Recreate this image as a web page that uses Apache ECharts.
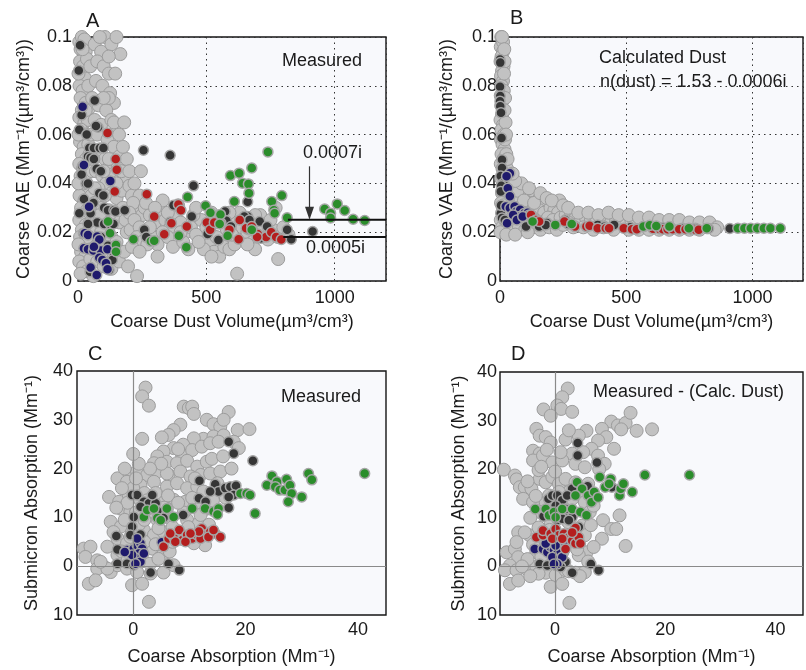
<!DOCTYPE html>
<html><head><meta charset="utf-8">
<script src="https://cdn.jsdelivr.net/npm/echarts@6/dist/echarts.min.js"></script>
<style>html,body{margin:0;padding:0;background:#fff}#c{width:806px;height:670px}</style>
</head><body><div id="c"></div><script>
// ---------- Panel A: measured VAE vs coarse dust volume ----------
const aGray = [[5,0.098],[15,0.1],[25,0.099],[10,0.095],[30,0.094],[8,0.09],[20,0.088],[35,0.091],[12,0.085],[28,0.083],[6,0.08],[18,0.078],[40,0.08],[10,0.075],[30,0.073],[15,0.07],[45,0.071],[5,0.067],[25,0.065],[38,0.066],[12,0.062],[30,0.06],[8,0.057],[22,0.055],[40,0.056],[15,0.052],[32,0.05],[5,0.048],[20,0.046],[42,0.047],[10,0.043],[28,0.041],[18,0.038],[38,0.036],[6,0.035],[25,0.033],[12,0.03],[35,0.029],[20,0.027],[5,0.025],[30,0.023],[15,0.021],[42,0.02],[8,0.018],[25,0.016],[38,0.014],[12,0.012],[28,0.01],[5,0.008],[20,0.006],[35,0.004],[10,0.003],[48,0.009],[50,0.015],[55,0.025],[52,0.035],[55,0.045],[50,0.06],[55,0.075],[48,0.088],
[65,0.097],[90,0.094],[105,0.1],[130,0.097],[75,0.09],[100,0.088],[120,0.085],[70,0.082],[95,0.08],[125,0.077],[140,0.073],[80,0.072],[110,0.07],[65,0.066],[90,0.064],[130,0.066],[150,0.062],[75,0.06],[115,0.058],[140,0.055],[85,0.053],[105,0.05],[125,0.048],[155,0.047],[70,0.045],[95,0.043],[140,0.044],[160,0.041],[110,0.04],[80,0.038],[130,0.036],[150,0.034],[65,0.032],[95,0.03],[120,0.029],[175,0.03],[85,0.027],[140,0.025],[160,0.024],[105,0.022],[70,0.02],[130,0.018],[150,0.016],[90,0.015],[115,0.012],[140,0.01],[75,0.008],[100,0.006],[130,0.005],[160,0.008],[60,0.002],[180,0.012],[190,0.02],[170,0.037],[180,0.043],[200,0.039],[210,0.035],[160,0.051],[145,0.085],[165,0.093],[150,0.1],[120,0.092],
[150,0.04],[170,0.045],[190,0.05],[175,0.055],[140,0.065],[160,0.06],[200,0.045],[220,0.04],[240,0.035],[230,0.03],[250,0.027],[185,0.025],[205,0.021],[215,0.032],[245,0.045],[180,0.065],[120,0.05],[100,0.045],[60,0.05],[65,0.038],[58,0.013],[105,0.035],[90,0.02],[120,0.075],[85,0.1],[100,0.075],[30,0.07],[22,0.04],[45,0.03],[35,0.018],[18,0.095],[2,0.085],[2,0.06],[2,0.04],[2,0.015],[45,0.052],
[200,0.028],[220,0.025],[240,0.022],[260,0.03],[280,0.027],[300,0.024],[230,0.018],[250,0.016],[210,0.014],[270,0.02],[320,0.029],[340,0.025],[360,0.022],[290,0.018],[310,0.015],[380,0.027],[400,0.024],[420,0.02],[350,0.018],[370,0.014],[230,0.002],[195,0.006],[265,0.032],[330,0.033],[390,0.031],[410,0.016],[440,0.022],[460,0.019],[480,0.025],[450,0.027],[430,0.013],
[280,0.022],[300,0.03],[330,0.02],[350,0.028],[270,0.015],[240,0.012],[310,0.01],[400,0.02],[460,0.03],
[500,0.022],[520,0.019],[540,0.024],[560,0.017],[580,0.021],[600,0.025],[620,0.018],[640,0.022],[660,0.02],[680,0.016],[700,0.023],[720,0.019],[740,0.017],[760,0.021],[780,0.018],[800,0.022],[510,0.015],[530,0.012],[550,0.01],[570,0.014],[590,0.013],[490,0.013],[470,0.016],[520,0.01],[620,0.003],[780,0.009],[690,0.013],[610,0.015],[650,0.026],[630,0.028],[710,0.027],[560,0.026],[590,0.028],[820,0.019],
[520,0.028],[540,0.018],[600,0.019],[660,0.015],[720,0.023],[750,0.025],[770,0.03],[690,0.027]];
const aDark = [[8,0.0966],[3,0.0863],[65,0.074],[14,0.068],[5,0.062],[78,0.063],[70,0.0635],[34,0.060],[44,0.0545],[62,0.0545],[85,0.0545],[99,0.0545],[39,0.051],[49,0.0505],[62,0.05],[17,0.047],[73,0.046],[89,0.045],[14,0.0436],[31,0.040],[39,0.040],[83,0.036],[99,0.035],[23,0.0336],[60,0.032],[102,0.030],[117,0.029],[140,0.029],[146,0.0285],[182,0.029],[5,0.0278],[49,0.0278],[75,0.024],[39,0.0234],[102,0.0234],[125,0.0234],[138,0.0234],[21,0.0196],[89,0.018],[117,0.0144],[140,0.0114],[134,0.0086],[121,0.0045],[47,0.0038],[255,0.0536],[359,0.0515],[450,0.039],[372,0.031],[258,0.021],[266,0.018],[359,0.0242],[443,0.0264],[573,0.0285],[661,0.0325],[661,0.0264],[648,0.0264],[668,0.025],[578,0.0247],[596,0.0223],[547,0.0168],[664,0.021],[708,0.0244],[737,0.0223],[815,0.021],[831,0.0171],[914,0.0203],[713,0.0175],[505,0.0193]];
const aBlue = [[18,0.0714],[23,0.0475],[126,0.041],[43,0.0304],[26,0.0196],[39,0.0189],[75,0.0182],[83,0.017],[23,0.0134],[39,0.013],[60,0.0125],[89,0.0125],[115,0.013],[83,0.0095],[95,0.0086],[49,0.0055],[109,0.0073],[115,0.0048],[73,0.0025],[62,0.014]];
const aRed = [[115,0.0607],[147,0.05],[151,0.0456],[143,0.0367],[268,0.0356],[297,0.0264],[336,0.0192],[391,0.0314],[401,0.029],[364,0.0237],[424,0.0223],[502,0.024],[515,0.021],[531,0.024],[557,0.0237],[590,0.021],[626,0.0171],[630,0.025],[655,0.0216],[677,0.0223],[700,0.0193],[733,0.018],[753,0.02],[772,0.018],[792,0.017],[698,0.018]];
const aGreen = [[117,0.0244],[125,0.0196],[148,0.0148],[148,0.012],[216,0.0171],[284,0.0163],[297,0.0165],[427,0.0344],[393,0.0185],[422,0.0138],[497,0.0308],[516,0.028],[555,0.0273],[552,0.0234],[594,0.0432],[628,0.0442],[677,0.0463],[641,0.0401],[664,0.0398],[666,0.036],[609,0.0326],[583,0.0185],[677,0.021],[755,0.0326],[763,0.029],[766,0.0278],[794,0.035],[740,0.0529],[815,0.0259],[961,0.0295],[984,0.0278],[984,0.0258],[1010,0.0316],[1039,0.0289],[1072,0.0253],[1117,0.0248]];
const aLine7 = [[818,0.0251],[1200,0.0251]];   // 0.0007i
const aLine5 = [[800,0.0180],[1200,0.0180]];   // 0.0005i
const aArrow = [[902,0.0470],[902,0.0278]];

// ---------- Panel B: calculated dust ----------
const bGray = [[5,0.1],[10,0.098],[3,0.096],[12,0.094],[6,0.092],[2,0.09],[14,0.088],[8,0.086],[4,0.084],[12,0.082],[6,0.08],[15,0.078],[3,0.076],[10,0.074],[5,0.072],[14,0.07],[8,0.068],[2,0.066],[12,0.064],[6,0.062],[16,0.06],[4,0.058],[10,0.056],[18,0.054],[6,0.052],[14,0.05],[3,0.048],[22,0.048],[10,0.046],[28,0.046],[18,0.044],[5,0.042],[35,0.043],[25,0.041],[12,0.039],[40,0.04],[30,0.038],[8,0.036],[48,0.037],[20,0.035],[55,0.035],[38,0.034],[4,0.032],[15,0.031],[60,0.033],[28,0.03],[45,0.031],[10,0.028],[70,0.032],[35,0.027],[3,0.025],[20,0.024],[50,0.026],[8,0.022],[30,0.022],[15,0.02],[60,0.024],[40,0.021],[2,0.02],[25,0.019],
[18,0.09],[20,0.075],[22,0.065],[16,0.085],[20,0.058],[25,0.052],[30,0.05],[12,0.098],[8,0.1],[17,0.095],[18,0.07],[24,0.06],
[80,0.034],[95,0.036],[110,0.035],[125,0.036],[140,0.035],[100,0.031],[120,0.032],[150,0.033],[165,0.032],[180,0.031],[85,0.028],[105,0.027],[130,0.029],[155,0.029],[175,0.028],[200,0.03],[215,0.029],[230,0.028],[90,0.024],[115,0.023],[140,0.025],[165,0.024],[190,0.026],[210,0.025],[240,0.026],[260,0.027],[280,0.027],[300,0.026],[75,0.022],[100,0.021],[130,0.022],[160,0.021],[195,0.022],[225,0.021],[250,0.023],[270,0.024],[320,0.025],[340,0.026],[360,0.025],[380,0.024],[400,0.025],[420,0.026],[440,0.024],[460,0.025],[290,0.022],[330,0.022],[370,0.021],[410,0.022],[450,0.021],[480,0.024],[500,0.023],[520,0.025],[540,0.024],[560,0.023],[580,0.024],[600,0.023],[620,0.024],[640,0.023],[660,0.024],[680,0.022],[700,0.023],[720,0.022],[740,0.023],[760,0.022],[780,0.022],[800,0.023],[820,0.022],[840,0.022],[510,0.021],[550,0.021],[590,0.021],[630,0.021],[670,0.021],[710,0.021],[750,0.021],[790,0.021],[60,0.019],[110,0.02],[235,0.033],
[70,0.037],[85,0.04],[60,0.041],[50,0.044],[75,0.029],[95,0.033],[115,0.038],[135,0.032],[160,0.036],[185,0.034],[205,0.033],[250,0.031],[270,0.03],[310,0.028],[350,0.028],[390,0.027],[430,0.028],[470,0.027],[510,0.027],[550,0.026],[590,0.026],[630,0.025],[670,0.025],[710,0.025],[750,0.024],[790,0.024],[830,0.024],[860,0.022],[850,0.021]];
const bDark = [[0,0.0908],[1,0.0895],[0,0.0796],[1,0.0758],[0,0.0737],[1,0.0716],[4,0.069],[6,0.0586],[8,0.0497],[8,0.0463],[3,0.043],[14,0.0401],[5,0.039],[3,0.0367],[5,0.0305],[3,0.0278],[8,0.0258],[18,0.0244],[4,0.031],[19,0.025],[86,0.026],[186,0.0238],[103,0.0223],[155,0.0223],[181,0.023],[258,0.025],[271,0.0234],[297,0.0225],[387,0.023],[413,0.0222],[452,0.023],[516,0.022],[568,0.0223],[645,0.0218],[723,0.0216],[774,0.0216],[826,0.0215],[910,0.0215]];
const bBlue = [[39,0.0442],[26,0.0429],[31,0.038],[39,0.0347],[23,0.0305],[39,0.0299],[58,0.0305],[65,0.0285],[80,0.0292],[97,0.0278],[110,0.028],[77,0.0264],[52,0.0271],[28,0.0237],[116,0.0271],[129,0.0264],[67,0.025],[90,0.0264]];
const bRed = [[123,0.0271],[142,0.025],[155,0.0244],[255,0.0244],[297,0.0223],[342,0.0223],[355,0.0226],[387,0.0216],[419,0.0216],[432,0.0216],[490,0.0216],[523,0.0212],[542,0.0212],[606,0.0214],[632,0.0213],[645,0.0212],[664,0.0212],[684,0.0212],[710,0.0212],[735,0.0212],[755,0.0212],[774,0.021],[787,0.021]];
const bGreen = [[129,0.0244],[219,0.023],[284,0.0234],[568,0.0223],[593,0.0228],[619,0.0225],[671,0.0223],[748,0.0216],[819,0.0216],[942,0.0216],[968,0.0216],[993,0.0216],[1019,0.0216],[1045,0.0216],[1071,0.0216],[1110,0.0216]];

// ---------- Panel C: measured absorption ----------
const cGray = [[2.2,36.6],[1.6,34.8],[2.8,32.9],[9,32.7],[9.9,32.4],[10.5,32.7],[10.8,31.2],[13.1,30],[14.3,29.1],[15.5,28.6],[17,31.6],[16.1,30],[18.6,27.9],[20.7,28.1],[8.4,29],[7.2,27.9],[6.3,26.9],[5.1,26.4],[1.6,26.1],[12.5,26.1],[10.8,26.2],[14.3,26.6],[16.1,26.8],[8.9,24.9],[7.2,24.2],[5.4,23.5],[4.3,22.5],[8.7,22.8],[10.5,23.8],[12.2,24.5],[13.7,25.2],[15.2,25.5],[17.9,25.5],[18.8,24.2],[3.7,21.1],[6,21.4],[7.8,21.1],[9.6,21.6],[11.4,20.4],[13.1,21.4],[-0.8,19],[0.7,19.4],[2.5,18.7],[4.3,19.4],[6.3,18.7],[8.4,19.4],[10.2,18.4],[12,18.7],[13.7,19],[15.5,19.4],[-2.8,18],[-1.1,17.3],[1.3,16.6],[3.7,17.3],[6,16.3],[7.8,17],[9.6,16],[11.4,16.3],[12.5,15.3],[-4.3,14.2],[-2.5,13.2],[-0.8,14.6],[1,13.9],[4.9,13.9],[7.2,13.6],[9.3,13.2],[11.1,12.9],[13.1,11.8],[-2.2,11.8],[-0.5,11.2],[1.3,10.1],[4.3,9.5],[6,10.1],[9.6,9.5],[11.7,8.8],[-4,9.1],[-2.2,8.1],[-0.2,7],[1.9,7.4],[3.7,6.4],[5.4,7],[7.2,5.7],[-2.8,5.7],[-1.1,4.7],[1.3,4.3],[3.4,3.6],[5.1,4],[-4.6,4],[-8.8,3.6],[-7.6,4],[-8.5,1.9],[-6.4,1.2],[-5.2,-0.1],[-4,-1.2],[-2.8,0.2],[-1.1,-0.5],[0.7,-1.2],[3.1,-1.5],[5.4,-1.3],[7.2,0.2],[-2.8,2.3],[-6.4,-0.5],[-7.9,-3.6],[-6.7,-2.9],[-0.2,-3.9],[1.6,-3.6],[2.8,-7.3],[-4.6,-0.5],[12.8,4.3],[10.8,4.7],[-5.8,0.9],[6,11.8],[3.4,11.2],
[0,16],[2,15],[-1,13],[3,12],[0.5,11],[-1.5,9.5],[1,8.5],[-0.5,6],[2,5],[4,4.5],[-2,3],[0,2],[1.5,1],[3,0.5],[5,2],[6.5,3],[7,8],[5.5,12],[4,15],[6,19],[8,24],[5,21],[3,20],[1,21],[-2,16],[-3,12],[0,23],[7,5],[8.5,6],[9,11],[10.5,14],[11,18],[14,22],[16,22.5],[17.5,20],[15,17],[2.5,13.5],[0.5,18],[-1.5,20],[2,9.5],[-3.5,7],[-1,1.2],[4.5,1.5],[6.2,14.5],[8,13],[9.8,8],[12,10.5],[14.2,13.5],[16.5,14],[13.5,8.5],[4.5,7.8]];
const cDark = [[17,25.5],[17.9,23.1],[21.3,21.6],[11.8,17.5],[14.6,16.8],[15.2,15.3],[16.4,16],[17.3,16.3],[18.3,16.5],[17.9,14.6],[17,14.2],[13.7,15.3],[11.7,13.9],[12.9,13.2],[17,12],[8.9,10.5],[-0.2,14.6],[0.7,14.6],[1.9,13.2],[2.8,12.9],[4,12.9],[1.3,12.2],[0.1,10.1],[-0.2,8.1],[-0.5,6.4],[1.3,6.5],[-3,6.2],[-2.8,3.4],[-2.8,0.5],[-1.1,0.5],[0.1,0.2],[3.1,-1.3],[6.3,0.5],[8.2,-0.8],[4.3,11.3],[5.4,9.9],[3.4,14.6]];
const cBlue = [[-1.1,3.3],[-0.5,2.9],[0.1,3.6],[0.7,4.3],[1.3,4.7],[1.6,3.6],[1,2.6],[0.4,1.7],[1.3,0.9],[1.9,2.6],[-0.2,2.3],[-1.5,2.9],[0.7,5.7],[5.1,4.9],[0.4,0.5]];
const cRed = [[5.4,4],[6.3,5.7],[7.2,6],[8.2,7.4],[8.7,5.3],[9.6,6.4],[10.5,5.7],[11.4,6.4],[12.2,7.7],[12.8,6.4],[13.7,7],[14.6,6.7],[15.5,6],[7.5,5],[9.3,5],[12,5.7],[13.4,6],[14.3,7.4],[11.7,7.1],[10.2,6.7],[6.6,6.7]];
const cGreen = [[1.9,10.1],[2.5,11.5],[3.7,11.8],[4.3,9.9],[4.9,9.4],[6,11.8],[7.2,10.1],[10.5,11.8],[12.8,11.8],[14.3,11.2],[15.2,11.8],[15,10.6],[19.1,14.9],[20.2,14.9],[20.8,14.6],[21.7,10.8],[23.8,16.6],[24.7,18.5],[25.6,17.3],[25.3,16.3],[26.1,15.6],[27,15.6],[27.3,17.8],[27.9,16.6],[28.2,14.9],[27.6,13.2],[30,14.2],[31.2,19],[31.8,17.7],[41.2,19]];

// ---------- Panel D: measured minus calculated dust ----------
const dGray = [[2.3,36.6],[1.3,34.8],[0.4,33.1],[1.1,32.4],[3.1,31.8],[-2.1,32.3],[-0.8,31],[10.2,29.8],[11.4,29],[12.8,29.5],[13.7,31.6],[14.8,27.9],[17.6,28.2],[12,28.2],[8.5,28.3],[9.3,26.6],[7.8,25.9],[5.7,27.9],[4.3,26.9],[1.9,26.1],[6.6,24.2],[5.1,23.5],[3.1,23.2],[-3.4,28.3],[-2.8,26.9],[-1.7,26.6],[-0.8,25.5],[-4,23.8],[-2.8,23.2],[-4,21.8],[-2.2,22.8],[-0.5,21.4],[1.3,21.8],[3.7,21.1],[5.4,20.4],[7.8,22.8],[9,21.1],[10.7,24.2],[-9.3,19.9],[-7.3,18.7],[-7,17.9],[-6.4,16.3],[-5.5,16.3],[-4.3,16],[-2.8,18],[-1.7,17.3],[-0.5,18.4],[0.7,17],[1.9,18],[3.7,17.3],[-5.8,13.9],[-4,13.2],[-1.7,13.2],[1.9,12.5],[-2.8,11.2],[-0.8,9.1],[2.4,9.1],[4.9,8.4],[-6.7,7],[-4.6,6.4],[-2.8,5.7],[0.1,5],[3.1,5.7],[5.4,6.4],[5.7,2.9],[4.3,2.3],[8.7,9.5],[8.5,5.7],[10.2,7.7],[11.7,10.5],[11.1,7.7],[12.8,4.2],[-8.8,2.9],[-7.3,3.6],[-6.7,1.9],[-8.2,0.2],[-9.1,-0.8],[-7,-0.8],[-5.2,-0.5],[-3.4,-0.1],[-1.7,-1.3],[0.1,-1.8],[1.9,-0.8],[3.7,-1.3],[5.4,-1.2],[-8.2,-3.6],[-6.7,-2.9],[-0.8,-4.2],[1.3,-3.6],[2.6,-7.5],[-1.7,0.9],[1.3,2.9],[-3.4,2.9],[3.1,13.9],[4.3,15.3],[2.5,15.3],[0.7,15.3],[-1.1,14.6],[5.4,13.2],[3.1,11.2],[6.3,11.2],
[0,19.5],[-3,19.8],[-5,17.5],[-3.5,14.5],[-4.5,10],[-3,8],[-1,7.5],[-5.5,7],[-7,5],[-4,4.5],[-2.5,2],[-5,1.5],[-6,0],[-3,-1.5],[-4.5,-2],[4,3.5],[6,1],[2.5,-1],[4.5,-2],[7,4],[6.5,8.5],[-1.5,24],[2.5,28],[-2.5,20.5],[1,23.5],[6,17],[8,20],[7,12.5]];
const dDark = [[4.1,25.4],[4.1,22.8],[7.6,21.4],[10.3,16.3],[5.9,16.5],[3.1,16],[-1.2,13.9],[-0.5,14.6],[0.4,14.6],[1.3,13.6],[2.2,14.6],[0.1,12.5],[-0.8,11.2],[0.7,11.2],[1.9,10.5],[3.1,10.1],[0.4,9.5],[-2.1,10.3],[1.9,11.8],[1.3,9.8],[2.5,9.5],[-2.8,0.5],[-1.4,0.2],[0.1,0.2],[1.9,0.9],[3.1,-1.3],[6.5,0.5],[7.9,-0.8],[1,-0.1],[4.3,8.1]];
const dBlue = [[-3.7,3.6],[-2.2,3.6],[-1.4,2.9],[-0.8,4],[-0.2,3.3],[0.4,2.6],[-0.5,1.9],[1,3.1],[0.1,4.3],[1.3,1.9],[0.4,0.5],[-0.2,0.5],[1.9,4.3],[-1.7,4.7]];
const dRed = [[-3.4,6],[-2.2,6.4],[-2.2,7.4],[-0.8,6.7],[0.1,7.7],[0.7,6.4],[1.6,6.7],[2.5,6],[3.1,5.3],[3.7,4.7],[4.3,6],[3.7,7.9],[1.9,3.6],[1.3,5.7],[4.6,4.7],[3.1,7],[-0.5,5.7]];
const dGreen = [[-3.6,11.8],[-1.7,11.8],[-1.1,10.5],[-0.2,11.2],[1.3,11.8],[0.1,10.1],[3.1,11.8],[4.6,11.2],[5.7,10.5],[4,17.3],[4.9,16],[3.7,14.6],[6,14.6],[6.6,13.2],[7.1,15.3],[7.8,14.2],[8.1,18.4],[9.1,16.3],[10.1,18],[9.8,17],[11.7,14.6],[11.9,16],[12.4,17],[14,15.3],[16.3,18.8],[24.4,18.8]];

// ---------- tick settings ----------
const volTicks = [0, 500, 1000];
const vaeRange = [0, 0.1, 0.02];
const absXRange = [-10, 45, 10];
const absYRange = [-10, 40, 10];
const absXLabels = [0, 20, 40];

const FONT = '"Liberation Sans", Arial, Helvetica, sans-serif';
const TXT = '#1a1a1a';
const C = {gray:'#c2c2c2', dark:'#353535', blue:'#1f1a6c', red:'#b41e1e', green:'#2b8d2b'};

const grids = [
  {left:78, top:37, width:308, height:244},
  {left:500, top:37, width:310, height:244},
  {left:77, top:371, width:309, height:244},
  {left:500, top:372, width:310, height:243}
].map(g => Object.assign(g, {show:true, backgroundColor:'#f8f9fc', borderColor:'#151515', borderWidth:1.4, containLabel:false}));

const dotted = {show:true, lineStyle:{type:[1.5,4], color:'#333', width:1}};
const noSplit = {show:false};
const lbl = (margin, fmt) => ({fontFamily:FONT, fontSize:18, color:TXT, margin, formatter:fmt});
const nameStyle = {fontFamily:FONT, fontSize:18, color:TXT};

const volFmt = v => volTicks.includes(v) ? String(v) : '';
const absXFmt = v => absXLabels.includes(v) ? String(v) : '';
const absYFmt = v => v === -10 ? '10' : String(v);

const xAxes = [0,1].map(i => ({
  type:'value', gridIndex:i, min:0, max:1200, interval:500,
  axisLine:{show:false}, axisTick:{show:false}, splitLine:dotted,
  axisLabel:lbl(8, volFmt),
  name:'Coarse Dust Volume(\u00b5m\u00b3/cm\u00b3)', nameLocation:'middle', nameGap:32, nameTextStyle:nameStyle
})).concat([2,3].map(i => ({
  type:'value', gridIndex:i, min:absXRange[0], max:absXRange[1], interval:absXRange[2],
  axisLine:{show:false}, axisTick:{show:false}, splitLine:noSplit,
  axisLabel:lbl(6, absXFmt),
  name:'Coarse Absorption (Mm\u207b\u00b9)', nameLocation:'middle', nameGap:33, nameTextStyle:nameStyle
})));

const yAxes = [
  {gridIndex:0, gap:40, margin:6},
  {gridIndex:1, gap:44, margin:3}
].map(o => ({
  type:'value', gridIndex:o.gridIndex, min:vaeRange[0], max:vaeRange[1], interval:vaeRange[2],
  axisLine:{show:false}, axisTick:{show:false}, splitLine:dotted,
  axisLabel:lbl(o.margin),
  name:'Coarse VAE (Mm\u207b\u00b9/(\u00b5m\u00b3/cm\u00b3))', nameLocation:'middle', nameGap:o.gap, nameRotate:90, nameTextStyle:nameStyle
})).concat([
  {gridIndex:2, gap:36, margin:4},
  {gridIndex:3, gap:32, margin:3}
].map(o => ({
  type:'value', gridIndex:o.gridIndex, min:absYRange[0], max:absYRange[1], interval:absYRange[2],
  axisLine:{show:false}, axisTick:{show:false}, splitLine:noSplit,
  axisLabel:lbl(o.margin, absYFmt),
  name:'Submicron Absorption (Mm\u207b\u00b9)', nameLocation:'middle', nameGap:o.gap, nameRotate:90, nameTextStyle:nameStyle
})));

function scat(data, idx, kind, extra) {
  const isGray = kind === 'gray';
  return Object.assign({
    type:'scatter', xAxisIndex:idx, yAxisIndex:idx, data, silent:true, animation:false,
    symbolSize: isGray ? 13 : 10,
    itemStyle:{color:C[kind], borderColor: isGray ? '#9c9c9c' : '#a6a6a6', borderWidth: isGray ? 1 : 1.5, opacity:1}
  }, extra || {});
}
const zeroLines = {
  silent:true, symbol:'none', label:{show:false}, animation:false,
  lineStyle:{color:'#8a8a8a', type:'solid', width:1.2},
  data:[{xAxis:0},{yAxis:0}]
};

const panels = [
  [aGray,aDark,aBlue,aRed,aGreen],
  [bGray,bDark,bBlue,bRed,bGreen],
  [cGray,cDark,cBlue,cRed,cGreen],
  [dGray,dDark,dBlue,dRed,dGreen]
];
const kinds = ['gray','dark','blue','red','green'];
const series = [];
panels.forEach((p, i) => {
  p.forEach((d, k) => {
    const extra = (k === 0 && i >= 2) ? {markLine: zeroLines} : null;
    series.push(scat(d, i, kinds[k], extra));
  });
});
// reference lines in panel A
series.push({type:'line', xAxisIndex:0, yAxisIndex:0, data:aLine7, symbol:'none', silent:true, animation:false, lineStyle:{color:'#111', width:2}});
series.push({type:'line', xAxisIndex:0, yAxisIndex:0, data:aLine5, symbol:'none', silent:true, animation:false, lineStyle:{color:'#111', width:2},
  markLine:{silent:true, animation:false, symbol:['none','triangle'], symbolSize:[9,13], label:{show:false},
    lineStyle:{color:'#333', type:'solid', width:1.2},
    data:[[{coord:aArrow[0]},{coord:aArrow[1]}]]}});

const t = (text, x, y, size, align) => ({type:'text', left:x, top:y, silent:true,
  style:{text, fontFamily:FONT, fontSize:size||18, fill:TXT, textAlign:align||'left', textVerticalAlign:'middle'}});

const option = {
  backgroundColor:'#ffffff',
  animation:false,
  grid:grids, xAxis:xAxes, yAxis:yAxes, series,
  graphic:[
    t('A', 86, 11, 20), t('B', 510, 8, 20), t('C', 88, 344, 20), t('D', 511, 344, 20),
    t('Measured', 282, 52),
    t('0.0007i', 303, 144),
    t('0.0005i', 306, 239),
    t('Calculated Dust', 599, 49),
    t('n(dust) = 1.53 - 0.0006i', 600, 73),
    t('Measured', 281, 388),
    t('Measured - (Calc. Dust)', 593, 383)
  ]
};
const chart = echarts.init(document.getElementById('c'), null, {renderer:'canvas'});
chart.setOption(option);
</script></body></html>
